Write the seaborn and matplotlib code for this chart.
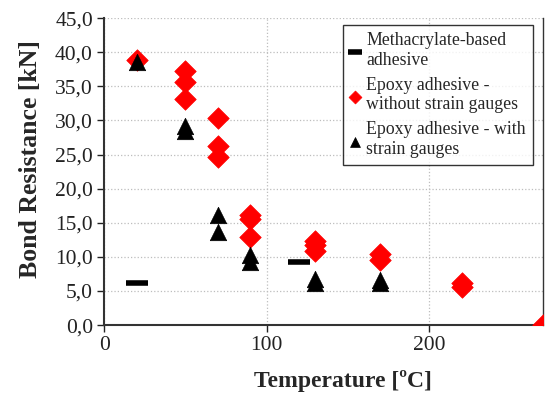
import matplotlib
matplotlib.use("Agg")
import matplotlib.pyplot as plt
import seaborn as sns
import pandas as pd

# Data
meth_T = [20, 120]
meth_R = [6.1, 9.3]

epoxy_wo_T = [20, 50, 50, 50, 70, 70, 70, 90, 90, 90, 130, 130, 130, 170, 170, 220, 220, 270]
epoxy_wo_R = [38.8, 37.3, 35.7, 33.1, 30.3, 26.2, 24.7, 16.2, 15.6, 12.9, 12.3, 11.8, 10.8, 10.4, 9.5, 6.1, 5.6, 0.0]

epoxy_w_T = [20, 50, 50, 70, 70, 90, 90, 130, 130, 170, 170]
epoxy_w_R = [38.5, 29.2, 28.5, 16.1, 13.6, 10.2, 9.3, 6.7, 6.1, 6.6, 6.2]

labels = ["Methacrylate-based\nadhesive",
          "Epoxy adhesive -\nwithout strain gauges",
          "Epoxy adhesive - with\nstrain gauges"]

x_ticks = [0, 100, 200]
y_ticks = [0, 5, 10, 15, 20, 25, 30, 35, 40, 45]

sns.set_theme(style="white")
plt.rcParams['font.family'] = ['Liberation Serif', 'DejaVu Serif']

fig = plt.figure(figsize=(5.45, 3.94), dpi=100)
ax = fig.add_axes([0.191, 0.175, 0.805, 0.779])

df_m = pd.DataFrame({"T": meth_T, "R": meth_R})
df_wo = pd.DataFrame({"T": epoxy_wo_T, "R": epoxy_wo_R})
df_w = pd.DataFrame({"T": epoxy_w_T, "R": epoxy_w_R})

sns.scatterplot(data=df_m, x="T", y="R", ax=ax, marker="_", s=260,
                color="black", linewidth=4, label=labels[0], zorder=3)
sns.scatterplot(data=df_wo, x="T", y="R", ax=ax, marker="D", s=120,
                color="red", edgecolor="red", linewidth=0.5, label=labels[1], zorder=3)
sns.scatterplot(data=df_w, x="T", y="R", ax=ax, marker="^", s=140,
                color="black", edgecolor="black", linewidth=0.5, label=labels[2], zorder=4)

ax.set_xlim(0, 270)
ax.set_ylim(0, 45)
ax.set_xticks(x_ticks)
ax.set_yticks(y_ticks)
ax.set_yticklabels([f"{v:.1f}".replace(".", ",") for v in y_ticks])
ax.tick_params(axis="both", labelsize=15.5, colors="#222222", length=5, width=1,
               direction="out", bottom=True, left=True, pad=3)
ax.grid(True, color="#bdbdbd", linestyle=":", linewidth=0.9)
ax.set_axisbelow(True)

for side in ["left", "bottom", "right"]:
    ax.spines[side].set_color("#333333")
    ax.spines[side].set_linewidth(1.5)
ax.spines["right"].set_linewidth(1.0)
ax.spines["top"].set_visible(False)

ax.set_xlabel("Temperature [ºC]", fontsize=17, fontweight="bold")
ax.set_ylabel("Bond Resistance [kN]", fontsize=18.5, fontweight="bold")
ax.xaxis.set_label_coords(0.545, -0.145)
ax.yaxis.set_label_coords(-0.142, 0.54)

leg = ax.legend(loc="upper right", bbox_to_anchor=(0.977, 0.977), borderaxespad=0,
                fontsize=12.8, frameon=True, fancybox=False, markerscale=0.6,
                handlelength=0.6, handletextpad=0.3, labelspacing=0.45,
                borderpad=0.4)
leg.get_frame().set_edgecolor("black")
leg.get_frame().set_linewidth(1.0)

fig.savefig("out.png", dpi=100)
